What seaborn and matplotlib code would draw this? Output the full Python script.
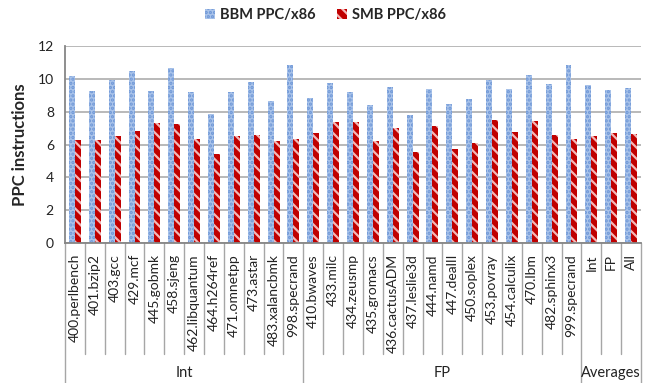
import matplotlib
matplotlib.use("Agg")
import matplotlib.pyplot as plt
import matplotlib.patches as mpatches
import seaborn as sns
import pandas as pd

categories = ["400.perlbench", "401.bzip2", "403.gcc", "429.mcf", "445.gobmk", "458.sjeng",
              "462.libquantum", "464.h264ref", "471.omnetpp", "473.astar", "483.xalancbmk",
              "998.specrand",
              "410.bwaves", "433.milc", "434.zeusmp", "435.gromacs", "436.cactusADM",
              "437.leslie3d", "444.namd", "447.dealII", "450.soplex", "453.povray",
              "454.calculix", "470.lbm", "482.sphinx3", "999.specrand",
              "Int", "FP", "All"]
bbm = [10.17, 9.26, 9.9, 10.5, 9.26, 10.66, 9.18, 7.86, 9.18, 9.8, 8.67, 10.84,
       8.81, 9.74, 9.2, 8.42, 9.5, 7.81, 9.36, 8.49, 8.77, 9.95, 9.36, 10.25, 9.68, 10.84,
       9.6, 9.32, 9.44]
smb = [6.27, 6.3, 6.52, 6.82, 7.31, 7.25, 6.31, 5.4, 6.52, 6.58, 6.23, 6.33,
       6.68, 7.37, 7.35, 6.23, 7.02, 5.56, 7.12, 5.72, 6.09, 7.49, 6.76, 7.43, 6.56, 6.33,
       6.5, 6.7, 6.62]
groups = ["Int", "FP", "Averages"]
group_sizes = [12, 14, 3]
series = ["BBM PPC/x86", "SMB PPC/x86"]
yticks = [0, 2, 4, 6, 8, 10, 12]

df = pd.DataFrame({
    "cat": categories * 2,
    "val": bbm + smb,
    "series": [series[0]] * len(categories) + [series[1]] * len(categories),
})

sns.set_style("white")
plt.rcParams["font.family"] = ["Lato", "DejaVu Sans"]
plt.rcParams["hatch.linewidth"] = 1.6

fig = plt.figure(figsize=(6.51, 3.83), dpi=100)
ax = fig.add_axes([65 / 651, 140 / 383, 576 / 651, 197 / 383])

face = {series[0]: "#a9c3ea", series[1]: "#c00000"}
hatch_col = {series[0]: "#6d96d6", series[1]: "#f4b8b8"}
hatches = {series[0]: "....", series[1]: "\\\\\\"}

sns.barplot(data=df, x="cat", y="val", hue="series", order=categories,
            hue_order=series, palette=face, width=0.6, gap=0, ax=ax,
            legend=False, saturation=1)

n = len(categories)
for i, p in enumerate(ax.patches[:2 * n]):
    s = series[0] if i < n else series[1]
    p.set_hatch(hatches[s])
    p.set_edgecolor(hatch_col[s])
    p.set_linewidth(0)

ax.set_xlim(-0.5, n - 0.5)
ax.set_ylim(0, 12)
ax.set_yticks(yticks)
ax.set_yticklabels([str(t) for t in yticks], fontsize=10)
ax.yaxis.grid(True, color="#a6a6a6", linewidth=1.1)
ax.set_axisbelow(True)
for side in ["top", "right"]:
    ax.spines[side].set_visible(False)
ax.spines["left"].set_color("#868686")
ax.spines["left"].set_linewidth(1.3)
ax.spines["bottom"].set_color("#868686")
ax.spines["bottom"].set_linewidth(1.3)
ax.tick_params(axis="y", direction="out", length=5, color="#868686", width=1, pad=3, labelcolor="#222222")
ax.tick_params(axis="x", length=0, pad=8)
ax.set_xticks(range(n))
ax.set_xticklabels(categories, rotation=90, fontsize=10, va="top", ha="center", color="#222222")
ax.set_xlabel("")
ax.set_ylabel("PPC instructions", fontsize=12, fontweight="bold", labelpad=7)

# separators under the axis
inner_y = (243 - 354) / 197
full_y = (243 - 390) / 197
trans = ax.get_xaxis_transform()
bounds = [-0.5]
acc = -0.5
for g in group_sizes:
    acc += g
    bounds.append(acc)
for k in range(n + 1):
    xb = k - 0.5
    y1 = full_y if xb in bounds else inner_y
    ax.plot([xb, xb], [0, y1], transform=trans, color="#a6a6a6", lw=1.0, clip_on=False)

group_y = (243 - 373) / 197
for gi, g in enumerate(groups):
    c = (bounds[gi] + bounds[gi + 1]) / 2
    ax.text(c, group_y, g, transform=trans, ha="center", va="center", fontsize=10.5, color="#222222")

handles = [mpatches.Patch(facecolor=face[s], edgecolor=hatch_col[s], hatch=hatches[s], linewidth=0, label=s)
           for s in series]
fig.legend(handles=handles, loc="center", bbox_to_anchor=(0.5, 1 - 15 / 383), ncol=2,
           frameon=False, prop={"weight": "bold", "size": 10.5}, handlelength=0.7, handleheight=0.7,
           handletextpad=0.3, columnspacing=1.5)

fig.savefig("out.png", dpi=100)
